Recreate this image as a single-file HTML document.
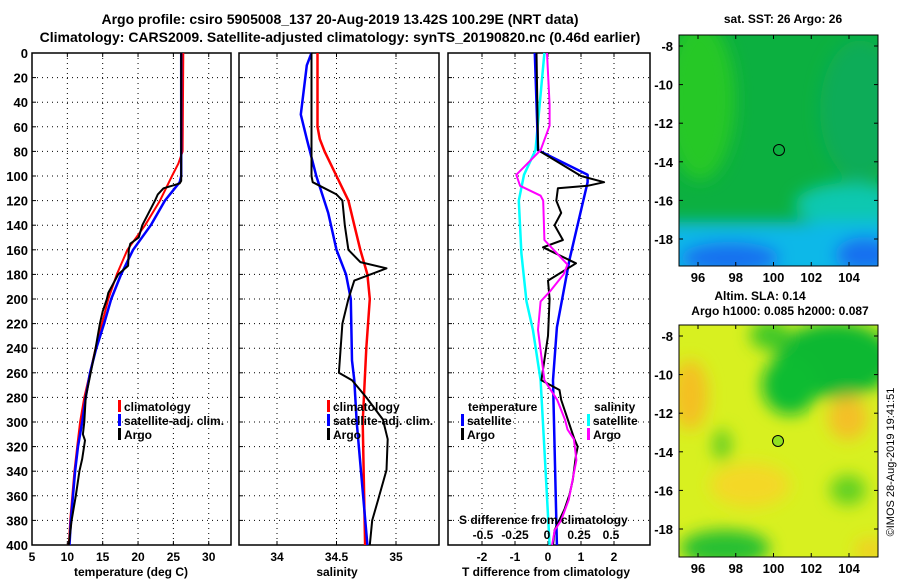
<!DOCTYPE html>
<html><head><meta charset="utf-8"><style>
body{margin:0;background:#fff;}
svg{display:block;font-family:"Liberation Sans",sans-serif;font-weight:bold;}
</style></head><body>
<svg id="c" width="900" height="580" viewBox="0 0 900 580">
<defs>
<filter id="bl1" x="-50%" y="-50%" width="200%" height="200%"><feGaussianBlur stdDeviation="8"/></filter>
<clipPath id="cm1"><rect x="679" y="35" width="199" height="231"/></clipPath>
<clipPath id="cm2"><rect x="679" y="325" width="199" height="232"/></clipPath>
</defs>
<text x="340" y="24" font-size="14" text-anchor="middle">Argo profile: csiro 5905008_137 20-Aug-2019 13.42S 100.29E (NRT data)</text>
<text x="340" y="42" font-size="14" text-anchor="middle">Climatology: CARS2009. Satellite-adjusted climatology: synTS_20190820.nc (0.46d earlier)</text>
<g id="panels"></g>
<!-- map 1 -->
<g>
<g clip-path="url(#cm1)">
<rect x="679" y="35" width="199" height="231" fill="#0cb040"/>
<g filter="url(#bl1)">
<ellipse cx="700" cy="100" rx="35" ry="80" fill="#28c828"/>
<ellipse cx="860" cy="110" rx="40" ry="70" fill="#08ac58"/>
<ellipse cx="850" cy="205" rx="55" ry="22" fill="#10c8b0"/>
<rect x="660" y="222" width="240" height="60" fill="#10b8e8"/>
<ellipse cx="730" cy="258" rx="50" ry="16" fill="#1470f0"/>
<ellipse cx="865" cy="255" rx="30" ry="18" fill="#1470f0"/>
</g>
</g>
<rect x="679" y="35" width="199" height="231" fill="none" stroke="#000"/>
<circle cx="779" cy="150" r="5.5" fill="none" stroke="#000"/>
<text x="783" y="23" font-size="12" text-anchor="middle">sat. SST: 26 Argo: 26</text>
</g>
<!-- map 2 -->
<g>
<g clip-path="url(#cm2)">
<rect x="679" y="325" width="199" height="232" fill="#d8f020"/>
<g filter="url(#bl1)">
<ellipse cx="835" cy="360" rx="60" ry="38" fill="#08b830"/>
<ellipse cx="790" cy="385" rx="28" ry="30" fill="#10bc30"/>
<ellipse cx="770" cy="335" rx="20" ry="15" fill="#40c828"/>
<ellipse cx="690" cy="395" rx="18" ry="35" fill="#f4c020"/>
<ellipse cx="848" cy="418" rx="20" ry="22" fill="#f4c028"/>
<ellipse cx="750" cy="485" rx="40" ry="22" fill="#f4d828"/>
<ellipse cx="725" cy="548" rx="45" ry="18" fill="#28c030"/>
<ellipse cx="848" cy="490" rx="18" ry="15" fill="#60d020"/>
<ellipse cx="722" cy="445" rx="9" ry="16" fill="#60cc20"/>
<ellipse cx="870" cy="550" rx="15" ry="12" fill="#f0d020"/>
</g>
</g>
<rect x="679" y="325" width="199" height="232" fill="none" stroke="#000"/>
<circle cx="778" cy="441" r="5.5" fill="#90e020" stroke="#000"/>
<text x="760" y="300" font-size="12" text-anchor="middle">Altim. SLA: 0.14</text>
<text x="780" y="315" font-size="12" text-anchor="middle">Argo h1000: 0.085 h2000: 0.087</text>
</g>
<text transform="translate(894,462) rotate(-90)" font-size="11" font-weight="normal" text-anchor="middle">©IMOS 28-Aug-2019 19:41:51</text>
</svg>
<script>
// ---- data ----
const tDepthClim=[0,80,90,100,120,140,160,180,200,220,240,260,280,300,320,340,360,380,400];
const tClim=[26.4,26.3,25.7,24.8,23.1,21,18.5,17,15.8,14.9,14,13.2,12.4,11.8,11.4,11,10.7,10.4,10.2];
const tDepthSat=[0,100,105,110,120,140,160,180,200,220,240,260,280,300,320,340,360,380,400];
const tSat=[26.1,26.1,25.9,25.2,23.8,21.8,19.3,17.6,16.2,15.2,14.1,13.2,12.6,12.1,11.5,11.1,10.8,10.5,10.3];
const tDepthArgo=[0,104,106,110,115,120,140,150,155,160,173,180,195,200,210,220,240,260,280,300,310,315,330,340,360,380,400];
const tArgo=[26.1,26.1,25.9,23.6,22.8,22.4,20.6,20.1,18.9,18.7,18.6,17.2,15.8,15.6,15,14.6,14,13.3,12.6,12.4,12.2,12.5,12.1,11.7,11.2,10.6,10.2];

const sDepthClim=[0,60,70,80,100,120,140,160,180,200,240,300,400];
const sClim=[34.34,34.34,34.36,34.4,34.5,34.6,34.65,34.7,34.76,34.78,34.75,34.72,34.74];
const sDepthSat=[0,10,50,70,100,130,160,180,200,250,266,300,400];
const sSat=[34.29,34.25,34.2,34.25,34.33,34.43,34.5,34.58,34.62,34.63,34.65,34.67,34.76];
const sDepthArgo=[0,100,105,110,115,120,140,160,170,175,185,200,220,260,266,280,298,314,339,363,380,400];
const sArgo=[34.29,34.29,34.3,34.4,34.5,34.55,34.57,34.6,34.7,34.92,34.65,34.6,34.55,34.52,34.63,34.75,34.89,34.93,34.92,34.85,34.8,34.78];

const dDepthTSat=[0,79,99,105,168,223,266,400];
const dTSat=[-0.4,-0.3,1.2,1.2,0.65,0.27,0.15,0.27];
const dDepthTArgo=[0,79,100,105,108,110,120,130,140,152,158,171,185,200,230,266,274,282,298,314,320,327,347,359,371,388,400];
const dTArgo=[-0.35,-0.3,1.0,1.7,1.2,0.3,0.25,0.4,0.2,0.45,-0.15,0.85,0,0.05,0.0,-0.2,0.35,0.4,0.6,0.8,0.9,0.85,0.75,0.65,0.5,0.2,0.15];
const dDepthSSat=[0,79,99,120,163,202,225,266,322,400];
const dSSat=[-0.02,-0.09,-0.18,-0.22,-0.2,-0.16,-0.11,-0.05,-0.02,0.02];
const dDepthSArgo=[0,42,59,79,99,108,116,120,152,172,180,193,202,225,250,266,282,298,306,314,331,347,363,380,388,400];
const dSArgo=[0,0.02,0.02,-0.05,-0.24,-0.21,-0.05,-0.03,-0.02,0.16,0.13,0.03,-0.05,-0.07,-0.04,-0.02,0.08,0.14,0.16,0.21,0.23,0.2,0.17,0.11,0.06,0.04];

const depthTicks=[0,20,40,60,80,100,120,140,160,180,200,220,240,260,280,300,320,340,360,380,400];
const tTicks=[5,10,15,20,25,30];
const sTicks=[34,34.5,35];
const dtTicks=[-2,-1,0,1,2];
const dsTicks=[-0.5,-0.25,0,0.25,0.5];
const dsTickLabels=["-0.5","-0.25","0","0.25","0.5"];
const latTicks=[-8,-10,-12,-14,-16,-18];
const lonTicks=[96,98,100,102,104];

// ---- helpers ----
const NS="http://www.w3.org/2000/svg";
const root=document.getElementById('panels');
function mk(tag,attrs,parent){const e=document.createElementNS(NS,tag);for(const k in attrs)e.setAttribute(k,attrs[k]);(parent||root).appendChild(e);return e;}
const Y0=53,Y1=545;
const yD=d=>Y0+(d/400)*(Y1-Y0);
function lin(d0,d1,r0,r1){return v=>r0+(v-d0)/(d1-d0)*(r1-r0);}

function panel(name,x0,x1,xs,ticks,labels,showY){
  const g=mk('g',{});
  
  
  depthTicks.forEach((d,i)=>{
    if(i>0&&i<depthTicks.length-1) mk('line',{x1:x0,x2:x1,y1:yD(d),y2:yD(d),stroke:'#000','stroke-dasharray':'1 4'},g);
    mk('line',{x1:x0,x2:x0+4,y1:yD(d),y2:yD(d),stroke:'#000'},g);
    if(showY){const t=mk('text',{x:x0-4,y:yD(d)+5,'font-size':13,'text-anchor':'end'},g);t.textContent=d;
      }
  });
  ticks.forEach((v,i)=>{
    const x=xs(v);
    mk('line',{x1:x,x2:x,y1:Y0,y2:Y1,stroke:'#000','stroke-dasharray':'1 4'},g);
    mk('line',{x1:x,x2:x,y1:Y1,y2:Y1-4,stroke:'#000'},g);
    mk('line',{x1:x,x2:x,y1:Y0,y2:Y0+4,stroke:'#000'},g);
    if(labels){const t=mk('text',{x:x,y:561,'font-size':12,'text-anchor':'middle'},g);t.textContent=labels[i];
      }
  });
  mk('rect',{x:x0,y:Y0,width:x1-x0,height:Y1-Y0,fill:'none',stroke:'#000','stroke-width':1.5},g);
  return g;
}
function series(g,name,depths,vals,xs,color,w){
  const pts=depths.map((d,i)=>xs(vals[i]).toFixed(1)+','+yD(d).toFixed(1)).join(' ');
  const p=mk('polyline',{points:pts,fill:'none',stroke:color,'stroke-width':w,'stroke-linejoin':'round'},g);
  
  
}
function legend(g,x,y,color,label,name){
  mk('rect',{x:x,y:y-10,width:3,height:12,fill:color},g);
  const t=mk('text',{x:x+6,y:y+1,'font-size':12},g);t.textContent=label;
  
  
}

// panel 1 temperature
const xT=lin(5,33.15,32,231);
const g1=panel('temperature-panel',32,231,xT,tTicks,tTicks,true);
series(g1,'temp-climatology-line',tDepthClim,tClim,xT,'#f00',2);
series(g1,'temp-satellite-line',tDepthSat,tSat,xT,'#00f',2.5);
series(g1,'temp-argo-line',tDepthArgo,tArgo,xT,'#000',2);
legend(g1,118,410,'#f00','climatology','legend-climatology');
legend(g1,118,424,'#00f','satellite-adj. clim.','legend-satellite');
legend(g1,118,438,'#000','Argo','legend-argo');
let t=mk('text',{x:131,y:576,'font-size':12,'text-anchor':'middle'},g1);t.textContent='temperature (deg C)';


// panel 2 salinity
const xS=lin(34,35,277,396);
const g2=panel('salinity-panel',239,439,xS,sTicks,sTicks,false);
series(g2,'sal-climatology-line',sDepthClim,sClim,xS,'#f00',2.5);
series(g2,'sal-satellite-line',sDepthSat,sSat,xS,'#00f',2.5);
series(g2,'sal-argo-line',sDepthArgo,sArgo,xS,'#000',2);
legend(g2,327,410,'#f00','climatology','legend-climatology-2');
legend(g2,327,424,'#00f','satellite-adj. clim.','legend-satellite-2');
legend(g2,327,438,'#000','Argo','legend-argo-2');
t=mk('text',{x:337,y:576,'font-size':12,'text-anchor':'middle'},g2);t.textContent='salinity';


// panel 3 differences
const xDT=lin(0,1,548,581);
const xDS=lin(0,0.25,547,579);
const g3=panel('difference-panel',448,650,xDT,dtTicks,dtTicks,false);
series(g3,'sal-diff-satellite-line',dDepthSSat,dSSat,xDS,'#0ff',2.5);
series(g3,'temp-diff-satellite-line',dDepthTSat,dTSat,xDT,'#00f',2.5);
series(g3,'temp-diff-argo-line',dDepthTArgo,dTArgo,xDT,'#000',2);
series(g3,'sal-diff-argo-line',dDepthSArgo,dSArgo,xDS,'#f0f',2);
t=mk('text',{x:468,y:411,'font-size':12},g3);t.textContent='temperature';

t=mk('text',{x:594,y:411,'font-size':12},g3);t.textContent='salinity';

legend(g3,461,424,'#00f','satellite','legend-temp-satellite');
legend(g3,461,438,'#000','Argo','legend-temp-argo');
legend(g3,587,424,'#0ff','satellite','legend-sal-satellite');
legend(g3,587,438,'#f0f','Argo','legend-sal-argo');
t=mk('text',{x:459,y:524,'font-size':12},g3);t.textContent='S difference from climatology';

dsTicks.forEach((v,i)=>{const e=mk('text',{x:xDS(v),y:539,'font-size':12,'text-anchor':'middle'},g3);e.textContent=dsTickLabels[i];
  });
t=mk('text',{x:546,y:576,'font-size':12,'text-anchor':'middle'},g3);t.textContent='T difference from climatology';


// map axes
const svg=document.getElementById('c');
const lonX=lin(96,104,698,849);
function mapAxes(top,bottom,lat8){
  const g=mk('g',{},svg);
  
  
  const latY=v=>lat8+(-8-v)*19.3;
  latTicks.forEach(v=>{const y=latY(v);
    mk('line',{x1:679,x2:683,y1:y,y2:y,stroke:'#000'},g);mk('line',{x1:874,x2:878,y1:y,y2:y,stroke:'#000'},g);
    const e=mk('text',{x:673,y:y+5,'font-size':13,'text-anchor':'end'},g);e.textContent=v;
    });
  lonTicks.forEach(v=>{const x=lonX(v);
    mk('line',{x1:x,x2:x,y1:top,y2:top+4,stroke:'#000'},g);mk('line',{x1:x,x2:x,y1:bottom,y2:bottom-4,stroke:'#000'},g);
    const e=mk('text',{x:x,y:bottom+16,'font-size':13,'text-anchor':'middle'},g);e.textContent=v;
    });
  return g;
}
mapAxes(35,266,46);
mapAxes(325,557,336);
</script>
</body></html>
